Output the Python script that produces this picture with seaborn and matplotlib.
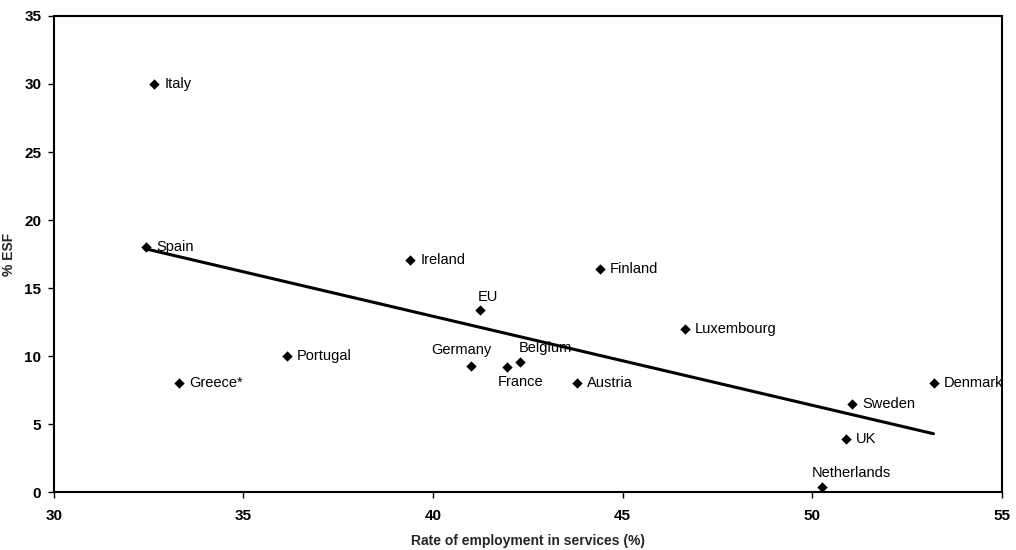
import matplotlib
matplotlib.use('Agg')
import matplotlib.pyplot as plt
import pandas as pd
import seaborn as sns

COUNTRIES = ['Italy', 'Spain', 'Greece*', 'Portugal', 'Ireland', 'EU', 'Germany', 'France',
             'Belgium', 'Austria', 'Finland', 'Luxembourg', 'Netherlands', 'UK', 'Sweden', 'Denmark']
SERVICES = [32.65, 32.43, 33.3, 36.15, 39.4, 41.25, 41.0, 41.95,
            42.3, 43.8, 44.4, 46.65, 50.25, 50.9, 51.05, 53.2]
ESF = [30.0, 18.0, 8.0, 10.0, 17.1, 13.4, 9.3, 9.2,
       9.6, 8.0, 16.4, 12.0, 0.4, 3.9, 6.45, 8.0]

TREND_X = [32.4, 53.2]
TREND_Y = [17.9, 4.3]

X_TICKS = [30, 35, 40, 45, 50, 55]
Y_TICKS = [0, 5, 10, 15, 20, 25, 30, 35]

# label offsets in pixels (dx, dy, ha)
OFFSETS = {
    'EU': (8, 13, 'center'),
    'Germany': (-10, 16, 'center'),
    'Belgium': (25, 14, 'center'),
    'France': (14, -15, 'center'),
    'Netherlands': (30, 14, 'center'),
}


def main():
    sns.set_theme(style='white')
    plt.rcParams['font.family'] = ['Liberation Sans', 'DejaVu Sans']

    df = pd.DataFrame({'country': COUNTRIES, 'services': SERVICES, 'esf': ESF})
    trend = pd.DataFrame({'x': TREND_X, 'y': TREND_Y})

    fig, ax = plt.subplots(figsize=(10.16, 5.5), dpi=100)
    fig.subplots_adjust(left=0.053, right=0.986, bottom=0.105, top=0.971)

    sns.lineplot(data=trend, x='x', y='y', color='black', linewidth=2.2, ax=ax)
    sns.scatterplot(data=df, x='services', y='esf', marker='D', color='black',
                    s=28, edgecolor='black', linewidth=0, ax=ax, zorder=3)

    px = 0.72
    for name, x, y in zip(COUNTRIES, SERVICES, ESF):
        dx, dy, ha = OFFSETS.get(name, (10, 0, 'left'))
        ax.annotate(name, (x, y), xytext=(dx * px, dy * px), textcoords='offset points',
                    ha=ha, va='center', fontsize=10.5, color='black')

    ax.set_xlim(30, 55)
    ax.set_ylim(0, 35)
    ax.set_xticks(X_TICKS)
    ax.set_yticks(Y_TICKS)
    ax.tick_params(direction='out', length=4, width=1, colors='black',
                   bottom=True, left=True)
    ax.tick_params(axis='x', pad=8)
    ax.tick_params(axis='y', pad=5)
    ax.set_xticklabels([str(t) for t in X_TICKS], fontsize=11, fontweight='bold')
    ax.set_yticklabels([str(t) for t in Y_TICKS], fontsize=11, fontweight='bold')
    for sp in ax.spines.values():
        sp.set_visible(True)
        sp.set_color('black')
        sp.set_linewidth(1.5)

    ax.set_xlabel('Rate of employment in services (%)', fontsize=10, fontweight='bold', labelpad=8)
    ax.set_ylabel('% ESF', fontsize=10, fontweight='bold', labelpad=6)

    plt.savefig('out.png', dpi=100)
    plt.close()


if __name__ == '__main__':
    main()
